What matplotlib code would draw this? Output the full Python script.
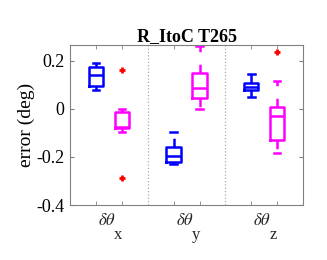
import matplotlib
matplotlib.use("Agg")
import matplotlib.pyplot as plt

plt.rcParams['font.family'] = ['Liberation Serif', 'DejaVu Serif']
plt.rcParams['mathtext.fontset'] = 'stix'
plt.rcParams['axes.unicode_minus'] = False

# box positions: pairs (blue, magenta) for each angle component
positions = [1, 2, 4, 5, 7, 8]
box_colors = ['#0000ff', '#ff00ff', '#0000ff', '#ff00ff', '#0000ff', '#ff00ff']
q1 = [0.093, -0.080, -0.220, 0.045, 0.078, -0.129]
med = [0.140, -0.075, -0.196, 0.086, 0.089, -0.029]
q3 = [0.175, -0.015, -0.157, 0.149, 0.105, 0.007]
whislo = [0.078, -0.095, -0.228, -0.003, 0.049, -0.182]
whishi = [0.190, 0.000, -0.095, 0.262, 0.143, 0.117]
fliers = [[], [0.161, -0.288], [], [], [], [0.235]]

group_pos = [1.5, 4.5, 7.5]
group_subs = ['x', 'y', 'z']
separators = [3, 6]
yticks = [-0.4, -0.2, 0, 0.2]
ytick_labels = ['-0.4', '-0.2', '0', '0.2']

fig = plt.figure(figsize=(3.27, 2.6), dpi=100)
ax = fig.add_axes([0.214, 0.2115, 0.713, 0.6155])

for i, p in enumerate(positions):
    c = box_colors[i]
    st = [dict(med=med[i], q1=q1[i], q3=q3[i], whislo=whislo[i],
               whishi=whishi[i], fliers=fliers[i])]
    ax.bxp(st, positions=[p], widths=0.55, capwidths=0.25,
           boxprops=dict(color=c, lw=1.8),
           medianprops=dict(color=c, lw=1.8),
           whiskerprops=dict(color=c, lw=1.8, linestyle=(0, (3.5, 5))),
           capprops=dict(color=c, lw=1.8),
           flierprops=dict(marker='+', markeredgecolor='red',
                           markersize=5, markeredgewidth=2, linestyle='none'),
           manage_ticks=False)

for s in separators:
    ax.axvline(s, color='#aaaaaa', lw=0.9, linestyle=':')

ax.set_xlim(0, 9)
ax.set_ylim(-0.4, 0.265)
ax.set_yticks(yticks)
ax.set_yticklabels(ytick_labels)
ax.set_xticks(positions, minor=True)
ax.set_xticks(group_pos)
ax.set_xticklabels([])
ax.tick_params(axis='x', which='major', length=0)
ax.tick_params(axis='x', which='minor', direction='in', length=3,
               top=True, bottom=True, color='#808080')
ax.tick_params(axis='y', direction='in', length=3, right=True,
               color='#808080', labelsize=13, pad=4)
for sp in ax.spines.values():
    sp.set_color('#808080')
    sp.set_linewidth(0.8)

for gp, sub in zip(group_pos, group_subs):
    ax.annotate(r'$\delta\theta$', xy=(gp, 0), xycoords=('data', 'axes fraction'),
                xytext=(5, -6), textcoords='offset points',
                ha='right', va='top', fontsize=12, color='#262626')
    ax.annotate(sub, xy=(gp, 0), xycoords=('data', 'axes fraction'),
                xytext=(3.5, -16), textcoords='offset points',
                ha='left', va='top', fontsize=12, color='#262626')

ax.set_ylabel('error (deg)', fontsize=14, labelpad=1)
ax.set_title('R_ItoC T265', fontsize=13, fontweight='bold', pad=3)

fig.savefig('out.png', dpi=100)
